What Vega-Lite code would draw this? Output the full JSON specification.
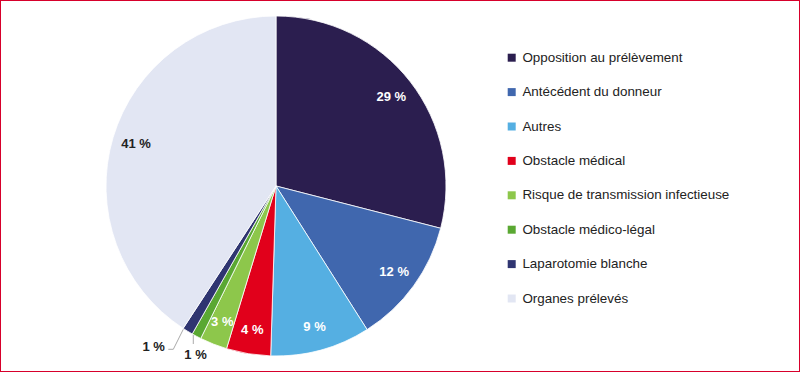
{
  "$schema": "https://vega.github.io/schema/vega-lite/v6.json",
  "width": 800,
  "height": 372,
  "padding": 0,
  "autosize": {"type": "none"},
  "background": "white",
  "config": {
    "view": {"stroke": "#d7002b", "strokeWidth": 2},
    "font": "Liberation Sans"
  },
  "datasets": {
    "slices": [
      {"category": "Opposition au prélèvement", "value": 29.0, "order": 1, "label": "29 %"},
      {"category": "Antécédent du donneur", "value": 12.0, "order": 2, "label": "12 %"},
      {"category": "Autres", "value": 9.5, "order": 3, "label": "9 %"},
      {"category": "Obstacle médical", "value": 4.2, "order": 4, "label": "4 %"},
      {"category": "Risque de transmission infectieuse", "value": 2.6, "order": 5, "label": "3 %"},
      {"category": "Obstacle médico-légal", "value": 0.9, "order": 6, "label": ""},
      {"category": "Laparotomie blanche", "value": 1.0, "order": 7, "label": ""},
      {"category": "Organes prélevés", "value": 40.8, "order": 8, "label": "41 %"}
    ],
    "leaders": [
      {"x": -0.5453, "y": -0.8429, "x2": -0.6041, "y2": -0.9606},
      {"x": -0.6041, "y": -0.9606, "x2": -0.6335, "y2": -0.9606},
      {"x": -0.4865, "y": -0.8765, "x2": -0.4865, "y2": -0.9294}
    ],
    "outer": [
      {"x": -0.7194, "y": -0.9453, "label": "1 %"},
      {"x": -0.4735, "y": -0.9912, "label": "1 %"}
    ]
  },
  "layer": [
    {
      "data": {"name": "slices"},
      "mark": {"type": "arc", "outerRadius": 170, "stroke": "white", "strokeWidth": 0.8},
      "encoding": {
        "x": {"datum": 0, "type": "quantitative", "scale": {"domain": [-1.62353, 3.08235], "nice": false, "zero": false}, "axis": null},
        "y": {"datum": 0, "type": "quantitative", "scale": {"domain": [-1.09412, 1.09412], "nice": false, "zero": false}, "axis": null},
        "theta": {"field": "value", "type": "quantitative", "stack": true},
        "order": {"field": "order", "type": "quantitative"},
        "color": {
          "field": "category",
          "type": "nominal",
          "scale": {
            "domain": ["Opposition au prélèvement", "Antécédent du donneur", "Autres", "Obstacle médical", "Risque de transmission infectieuse", "Obstacle médico-légal", "Laparotomie blanche", "Organes prélevés"],
            "range": ["#2b1e4f", "#4067ae", "#55afe2", "#e1001b", "#8dc74b", "#5aa832", "#2f3571", "#e2e6f3"]
          },
          "legend": {
            "orient": "none",
            "legendX": 505,
            "legendY": 51,
            "title": null,
            "symbolType": "square",
            "symbolSize": 64,
            "symbolStrokeWidth": 0,
            "labelFontSize": 13.4,
            "labelColor": "#222222",
            "labelFont": "Liberation Sans",
            "labelLimit": 300,
            "rowPadding": 19.4,
            "padding": 0,
            "labelOffset": 4
          }
        }
      }
    },
    {
      "data": {"name": "slices"},
      "mark": {"type": "text", "radius": 146, "fontWeight": "bold", "fontSize": 13, "align": "center", "baseline": "middle"},
      "encoding": {
        "x": {"datum": 0, "type": "quantitative"},
        "y": {"datum": 0, "type": "quantitative"},
        "theta": {"field": "value", "type": "quantitative", "stack": true},
        "order": {"field": "order", "type": "quantitative"},
        "text": {"field": "label"},
        "color": {
          "condition": {"test": "datum.category === 'Organes prélevés'", "value": "#222222"},
          "value": "white"
        }
      }
    },
    {
      "data": {"name": "leaders"},
      "mark": {"type": "rule", "color": "#aaaaaa", "strokeWidth": 1},
      "encoding": {
        "x": {"field": "x", "type": "quantitative"},
        "y": {"field": "y", "type": "quantitative"},
        "x2": {"field": "x2"},
        "y2": {"field": "y2"}
      }
    },
    {
      "data": {"name": "outer"},
      "mark": {"type": "text", "fontWeight": "bold", "fontSize": 13, "align": "center", "baseline": "middle", "color": "#222222"},
      "encoding": {
        "x": {"field": "x", "type": "quantitative"},
        "y": {"field": "y", "type": "quantitative"},
        "text": {"field": "label"}
      }
    }
  ]
}
